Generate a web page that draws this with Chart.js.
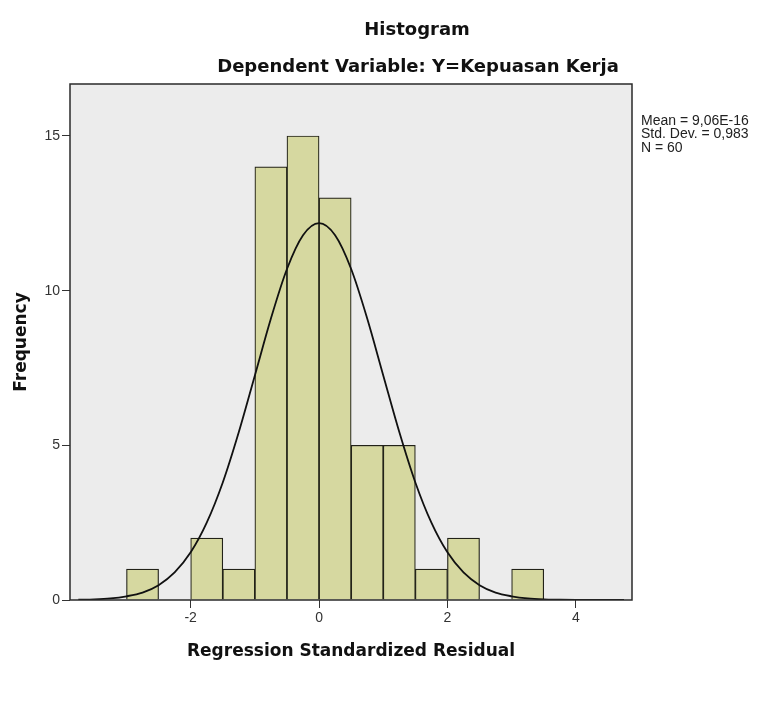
<!DOCTYPE html>
<html>
<head>
<meta charset="utf-8">
<script src="https://cdn.jsdelivr.net/npm/chart.js@4.4.0/dist/chart.umd.min.js"></script>
<style>
  html, body { margin: 0; padding: 0; background: #ffffff; }
  #wrap { width: 761px; height: 716px; }
</style>
</head>
<body>
<div id="wrap"><canvas id="c" width="761" height="716"></canvas></div>
<script>
// ---- data ----
const titleText = "Histogram";
const subtitleText = "Dependent Variable: Y=Kepuasan Kerja";
const xAxisTitle = "Regression Standardized Residual";
const yAxisTitle = "Frequency";
const statsLines = ["Mean = 9,06E-16", "Std. Dev. = 0,983", "N = 60"];

const binCenters = [-2.75, -1.75, -1.25, -0.75, -0.25, 0.25, 0.75, 1.25, 1.75, 2.25, 3.25];
const frequencies = [1, 2, 1, 14, 15, 13, 5, 5, 1, 2, 1];

const curveX = [-3.75, -3.5, -3.25, -3, -2.75, -2.5, -2.25, -2, -1.75, -1.5, -1.25, -1, -0.75, -0.5, -0.25,
                0, 0.25, 0.5, 0.75, 1, 1.25, 1.5, 1.75, 2, 2.25, 2.5, 2.75, 3, 3.25, 3.5, 3.75, 4, 4.25, 4.5, 4.75];
const curveY = [0.01, 0.02, 0.05, 0.12, 0.24, 0.48, 0.89, 1.54, 2.50, 3.80, 5.43, 7.26, 9.10, 10.70, 11.79,
                12.18, 11.79, 10.70, 9.10, 7.26, 5.43, 3.80, 2.50, 1.54, 0.89, 0.48, 0.24, 0.12, 0.05, 0.02, 0.01, 0.003, 0.001, 0, 0];

const xTicks = [-2, 0, 2, 4];
const yTicks = [0, 5, 10, 15];
const xRange = [-3.88, 4.875];
const yRange = [0, 16.68];

// ---- plugins ----
const plotBackground = {
  id: 'plotBackground',
  beforeDatasetsDraw(chart) {
    const {ctx, chartArea: a} = chart;
    ctx.save();
    ctx.fillStyle = '#ececec';
    ctx.fillRect(a.left, a.top, a.right - a.left, a.bottom - a.top);
    ctx.restore();
  },
  afterDatasetsDraw(chart) {
    const {ctx, chartArea: a} = chart;
    ctx.save();
    ctx.strokeStyle = '#2a2a2a';
    ctx.lineWidth = 1.5;
    ctx.strokeRect(a.left, a.top, a.right - a.left, a.bottom - a.top);
    ctx.restore();
  }
};

const textPlugin = {
  id: 'textPlugin',
  afterDraw(chart) {
    const {ctx, chartArea: a} = chart;
    ctx.save();
    ctx.fillStyle = '#111111';
    ctx.textAlign = 'center';
    ctx.textBaseline = 'middle';
    ctx.font = 'bold 18px "DejaVu Sans"';
    ctx.fillText(titleText, 417, 30);
    ctx.fillText(subtitleText, 418, 67);
    ctx.font = '14px "Liberation Sans"';
    ctx.textAlign = 'left';
    ctx.fillStyle = '#222222';
    statsLines.forEach((s, i) => ctx.fillText(s, a.right + 9, 121 + i * 13.5));
    ctx.restore();
  }
};

const barData = binCenters.map((x, i) => ({x: x, y: frequencies[i]}));
const curveData = curveX.map((x, i) => ({x: x, y: curveY[i]}));

new Chart(document.getElementById('c'), {
  type: 'bar',
  data: {
    datasets: [
      {
        type: 'line',
        data: curveData,
        borderColor: '#111111',
        borderWidth: 1.8,
        pointRadius: 0,
        fill: false,
        tension: 0.4,
        cubicInterpolationMode: 'monotone',
        order: 0
      },
      {
        type: 'bar',
        data: barData,
        backgroundColor: '#d6d8a0',
        borderColor: '#222218',
        borderWidth: 1.2,
        borderSkipped: 'start',
        barPercentage: 1.0,
        categoryPercentage: 1.0,
        grouped: false,
        order: 1
      }
    ]
  },
  options: {
    responsive: false,
    animation: false,
    layout: { padding: { left: 0, right: 129, top: 84, bottom: 50 } },
    plugins: {
      legend: { display: false },
      tooltip: { enabled: false },
      title: { display: false }
    },
    scales: {
      x: {
        type: 'linear',
        offset: false,
        min: xRange[0],
        max: xRange[1],
        afterBuildTicks(scale) { scale.ticks = xTicks.map(v => ({value: v})); },
        afterFit(scale) { scale.height = 66; },
        ticks: {
          font: { family: 'Liberation Sans', size: 14 },
          color: '#333333',
          padding: 2,
          maxRotation: 0,
          autoSkip: false
        },
        grid: { offset: false, drawOnChartArea: false, drawTicks: true, tickLength: 8, color: '#333333', lineWidth: 1 },
        border: { display: false },
        title: {
          display: true,
          text: xAxisTitle,
          font: { family: 'DejaVu Sans', size: 17, weight: 'bold' },
          color: '#111111',
          padding: { top: 0, bottom: 4 }
        }
      },
      y: {
        type: 'linear',
        min: yRange[0],
        max: yRange[1],
        afterBuildTicks(scale) { scale.ticks = yTicks.map(v => ({value: v})); },
        afterFit(scale) { scale.width = 70; },
        ticks: {
          font: { family: 'Liberation Sans', size: 14 },
          color: '#333333',
          padding: 2
        },
        grid: { drawOnChartArea: false, drawTicks: true, tickLength: 8, color: '#333333', lineWidth: 1 },
        border: { display: false },
        title: {
          display: true,
          text: yAxisTitle,
          font: { family: 'DejaVu Sans', size: 17, weight: 'bold' },
          color: '#111111',
          padding: { top: 11, bottom: 0 }
        }
      }
    }
  },
  plugins: [plotBackground, textPlugin]
});
</script>
</body>
</html>
